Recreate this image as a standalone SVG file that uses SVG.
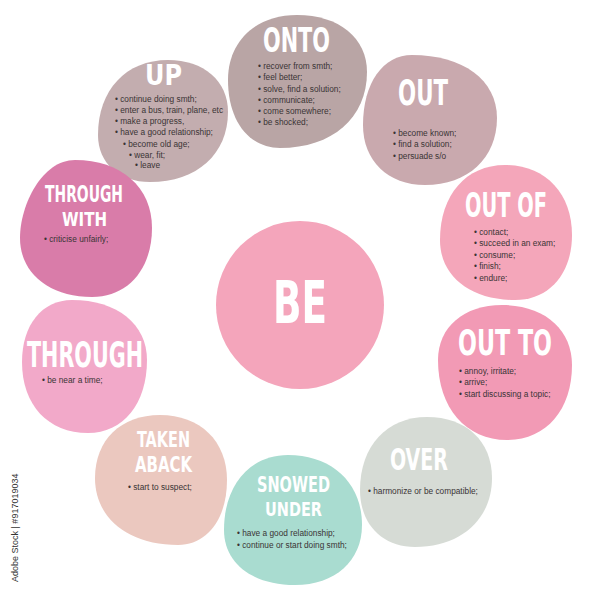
<svg xmlns="http://www.w3.org/2000/svg" width="600" height="600" viewBox="0 0 600 600">
<style>
.t{font-family:"Liberation Sans Narrow","DejaVu Sans Condensed","Liberation Sans",sans-serif;font-weight:700;fill:#ffffff;text-anchor:middle}
.b{font-family:"Liberation Sans","Noto Sans",sans-serif;font-size:8.3px;fill:#3a3435}
.id{font-family:"Liberation Sans","Noto Sans",sans-serif;font-size:9px;fill:#333333}
</style>
<rect width="600" height="600" fill="#ffffff"/>

<g id="be">
<circle cx="300" cy="305" r="84" fill="#f4a5bb"/>
<text class="t" x="300" y="323" font-size="58" textLength="54" lengthAdjust="spacingAndGlyphs">BE</text>
</g>

<g id="up">
<path d="M168,60 C204,60 228,81 228,112 C228,154 197,182 150,182 C119,182 98,163 98,135 C98,90 126,60 168,60 Z" fill="#c3adaf"/>
<text class="t" x="163.5" y="85" font-size="28" textLength="37" lengthAdjust="spacingAndGlyphs">UP</text>
<text class="b" x="115" y="101.5">• continue doing smth;</text>
<text class="b" x="115" y="112.5">• enter a bus, train, plane, etc</text>
<text class="b" x="115" y="124">• make a progress,</text>
<text class="b" x="115" y="135">• have a good relationship;</text>
<text class="b" x="123" y="146.5">• become old age;</text>
<text class="b" x="129" y="158">• wear, fit;</text>
<text class="b" x="135" y="168">• leave</text>
</g>

<g id="onto">
<path d="M297,15 C339,15 367,38 367,72 C367,118 332,148 280,148 C249,148 228,121 228,80 C228,41 256,15 297,15 Z" fill="#b9a5a5"/>
<text class="t" x="296.5" y="52" font-size="33" textLength="67" lengthAdjust="spacingAndGlyphs">ONTO</text>
<text class="b" x="258" y="68.5">• recover from smth;</text>
<text class="b" x="258" y="80">• feel better;</text>
<text class="b" x="258" y="91.5">• solve, find a solution;</text>
<text class="b" x="258" y="102.5">• communicate;</text>
<text class="b" x="258" y="113.5">• come somewhere;</text>
<text class="b" x="258" y="124.5">• be shocked;</text>
</g>

<g id="out">
<path d="M412,55 C463,55 497,80 497,118 C497,158 468,185 425,185 C388,185 363,161 363,125 C363,83 383,55 412,55 Z" fill="#c9a9ae"/>
<text class="t" x="423" y="105" font-size="35" textLength="50" lengthAdjust="spacingAndGlyphs">OUT</text>
<text class="b" x="393" y="136">• become known;</text>
<text class="b" x="393" y="147">• find a solution;</text>
<text class="b" x="393" y="158.5">• persuade s/o</text>
</g>

<g id="out-of">
<path d="M505,165 C545,165 572,193 572,235 C572,274 549,300 515,300 C470,300 440,276 440,240 C440,195 466,165 505,165 Z" fill="#f4a6ba"/>
<text class="t" x="506" y="217" font-size="33" textLength="82" lengthAdjust="spacingAndGlyphs">OUT OF</text>
<text class="b" x="474" y="235">• contact;</text>
<text class="b" x="474" y="246">• succeed in an exam;</text>
<text class="b" x="474" y="257.5">• consume;</text>
<text class="b" x="474" y="269">• finish;</text>
<text class="b" x="474" y="281">• endure;</text>
</g>

<g id="out-to">
<path d="M502,305 C544,305 572,329 572,365 C572,410 546,440 507,440 C466,440 438,408 438,360 C438,327 464,305 502,305 Z" fill="#f29ab5"/>
<text class="t" x="505" y="355" font-size="35" textLength="94" lengthAdjust="spacingAndGlyphs">OUT TO</text>
<text class="b" x="459" y="373.5">• annoy, irritate;</text>
<text class="b" x="459" y="385">• arrive;</text>
<text class="b" x="459" y="396.5">• start discussing a topic;</text>
</g>

<g id="over">
<path d="M427,417 C466,417 492,441 492,478 C492,519 461,547 415,547 C382,547 360,524 360,490 C360,446 387,417 427,417 Z" fill="#d6dbd5"/>
<text class="t" x="419" y="470" font-size="31" textLength="58" lengthAdjust="spacingAndGlyphs">OVER</text>
<text class="b" x="368" y="494">• harmonize or be compatible;</text>
</g>

<g id="snowed-under">
<path d="M288,455 C332,455 362,483 362,525 C362,561 335,585 295,585 C252,585 224,563 224,530 C224,485 250,455 288,455 Z" fill="#a9dcd0"/>
<text class="t" x="293.5" y="492" font-size="22" textLength="73" lengthAdjust="spacingAndGlyphs">SNOWED</text>
<text class="t" x="293.5" y="516" font-size="20" textLength="57" lengthAdjust="spacingAndGlyphs">UNDER</text>
<text class="b" x="237" y="536">• have a good relationship;</text>
<text class="b" x="237" y="547.5">• continue or start doing smth;</text>
</g>

<g id="taken-aback">
<path d="M160,415 C200,415 227,441 227,480 C227,519 207,545 178,545 C128,545 95,518 95,478 C95,440 121,415 160,415 Z" fill="#ebc8bf"/>
<text class="t" x="163.5" y="447" font-size="21" textLength="53" lengthAdjust="spacingAndGlyphs">TAKEN</text>
<text class="t" x="163.5" y="472" font-size="21.5" textLength="57" lengthAdjust="spacingAndGlyphs">ABACK</text>
<text class="b" x="128" y="490">• start to suspect;</text>
</g>

<g id="through-with">
<path d="M75,160 C121,160 152,187 152,228 C152,269 128,297 92,297 C49,297 20,273 20,238 C20,205 42,160 75,160 Z" fill="#d97ca9"/>
<text class="t" x="84" y="202" font-size="23" textLength="78" lengthAdjust="spacingAndGlyphs">THROUGH</text>
<text class="t" x="84.5" y="226" font-size="20" textLength="45" lengthAdjust="spacingAndGlyphs">WITH</text>
<text class="b" x="44" y="242">• criticise unfairly;</text>
</g>

<g id="through">
<path d="M72,300 C117,300 147,324 147,360 C147,404 123,433 88,433 C48,433 22,405 22,362 C22,325 42,300 72,300 Z" fill="#f2a9c9"/>
<text class="t" x="85" y="367" font-size="35" textLength="116" lengthAdjust="spacingAndGlyphs">THROUGH</text>
<text class="b" x="42" y="382.5">• be near a time;</text>
</g>

<text class="id" transform="translate(17.5,582) rotate(-90)">Adobe Stock | #917019034</text>
</svg>
